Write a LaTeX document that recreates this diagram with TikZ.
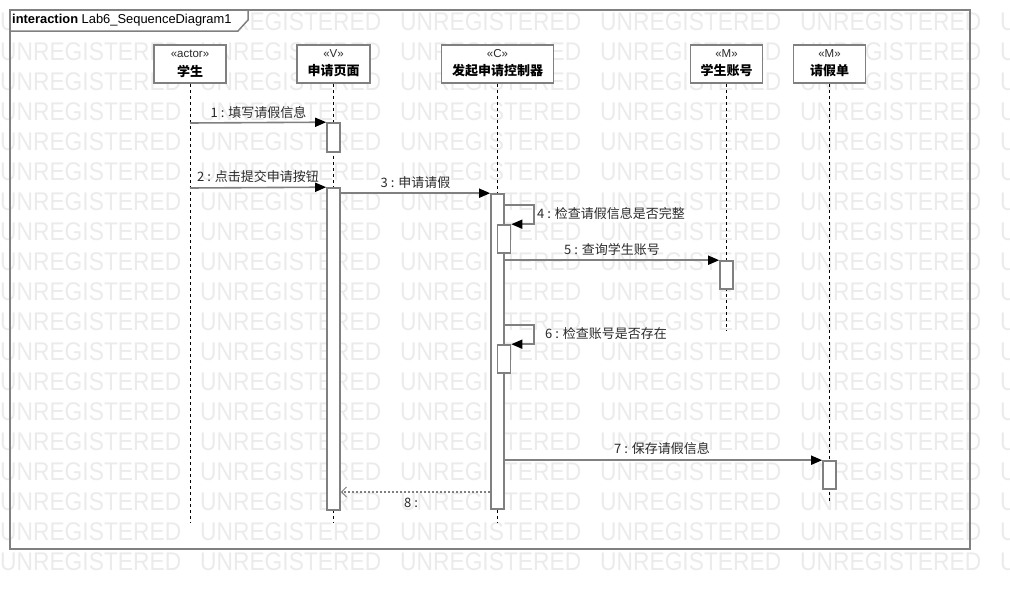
\documentclass[tikz,border=0pt]{standalone}
\usepackage{fontspec}
\setmainfont{Liberation Sans}
\newfontfamily\cjk{Noto Sans CJK SC}
\usetikzlibrary{arrows.meta}
\definecolor{lg}{HTML}{808080}
\definecolor{wm}{HTML}{EBEBEB}
\definecolor{txt}{HTML}{2A2A2A}
\begin{document}
\begin{tikzpicture}[x=1pt,y=-1pt,
  wmark/.style={text=wm, font=\fontsize{25.6}{26}\selectfont, anchor=west, inner sep=0},
  lbox/.style={draw=lg, line width=1.6, fill=white, minimum width=72, minimum height=38, inner sep=0},
  stereo/.style={font=\fontsize{11.5}{12}\selectfont, text=txt, inner sep=0},
  lname/.style={font=\cjk\bfseries\fontsize{13}{15}\selectfont, text=black, inner sep=0},
  life/.style={draw=black, line width=0.9, dash pattern=on 3pt off 3pt},
  act/.style={draw=lg, line width=1.6, fill=white, minimum width=13, inner sep=0},
  msg/.style={draw=lg, line width=1.6, -{Triangle[length=11pt,width=9pt,black]}},
  ret/.style={draw=lg, line width=1.6, dash pattern=on 2pt off 2pt, -{Straight Barb[length=5pt,width=10pt,line width=1pt,lg]}},
  lab/.style={font=\cjk\fontsize{13}{15}\selectfont, text=txt, inner sep=0}
]
\useasboundingbox (0,0) rectangle (1010,589);
% watermark
\begin{scope}
\clip (0,0) rectangle (1010,589);
\foreach \r in {0,...,18}{
  \foreach \c in {0,...,5}{
    \node[wmark] (w-\r-\c) at (200*\c, 22+30*\r) {\scalebox{0.89}[1]{UNREGISTERED}};
  }
}
\end{scope}
% frame
\node[draw=lg, line width=2, minimum width=960, minimum height=539, inner sep=0] (frame) at (490,279.5) {};
\draw[draw=lg, line width=1.5, fill=white] (10,10) -- (248,10) -- (248,20) -- (238,31) -- (10,31) -- cycle;
\node[anchor=west, inner sep=0, font=\fontsize{12.9}{14}\selectfont] (title) at (12,20.5) {\textbf{interaction} Lab6\_SequenceDiagram1};
% lifeline ends
\coordinate (e1) at (190,523);
\coordinate (e2) at (333.5,523);
\coordinate (e3) at (497.5,523);
\coordinate (e4) at (726.5,331);
\coordinate (e5) at (829.5,502);
% boxes
\node[lbox] (b1) at (190,64) {};
\node[lbox, minimum width=73] (b2) at (333.5,64) {};
\node[lbox, minimum width=112] (b3) at (497.5,64) {};
\node[lbox] (b4) at (726.5,64) {};
\node[lbox] (b5) at (829.5,64) {};
\node[stereo] (b1s) at (190,54) {«actor»};
\node[lname] (b1n) at (190,71) {学生};
\node[stereo] (b2s) at (333.5,54) {«V»};
\node[lname] (b2n) at (333.5,71) {申请页面};
\node[stereo] (b3s) at (497.5,54) {«C»};
\node[lname] (b3n) at (497.5,71) {发起申请控制器};
\node[stereo] (b4s) at (726.5,54) {«M»};
\node[lname] (b4n) at (726.5,71) {学生账号};
\node[stereo] (b5s) at (829.5,54) {«M»};
\node[lname] (b5n) at (829.5,71) {请假单};
% lifelines
\draw[life] (b1.south) -- (e1);
\draw[life] (b2.south) -- (e2);
\draw[life] (b3.south) -- (e3);
\draw[life] (b4.south) -- (e4);
\draw[life] (b5.south) -- (e5);
% activations
\node[act, minimum height=29] (a1) at (333.5,137.5) {};
\node[act, minimum height=322] (a2) at (333.5,349) {};
\node[act, minimum height=315] (a3) at (497.5,351.5) {};
\node[act, minimum height=28] (a4) at (504,239) {};
\node[act, minimum height=28] (a5) at (726.5,275) {};
\node[act, minimum height=28] (a6) at (504,359) {};
\node[act, minimum height=28] (a7) at (829.5,475) {};
% messages
\coordinate (m1s) at (190,123);
\coordinate (m2s) at (190,188);
\coordinate (m4s) at (a3.east |- 0,205);
\coordinate (m6s) at (a3.east |- 0,325);
\coordinate (m8) at (0,492);
\draw[msg] (m1s) -- (a1.north west);
\draw[msg] (m2s) -- (a2.north west);
\draw[msg] (a2.east |- a3.north) -- (a3.north west);
\draw[msg] (m4s) -- (534,205) |- (a4.north east);
\draw[msg] (a3.east |- a5.north) -- (a5.north west);
\draw[msg] (m6s) -- (534,325) |- (a6.north east);
\draw[msg] (a3.east |- a7.north) -- (a7.north west);
\draw[ret] (a3.west |- m8) -- (a2.east |- m8);
% labels
\node[lab] (l1) at (258.5,113) {1 : 填写请假信息};
\node[lab] (l2) at (258,177) {2 : 点击提交申请按钮};
\node[lab] (l3) at (415.5,183) {3 : 申请请假};
\node[lab, anchor=west] (l4) at (537,214) {4 : 检查请假信息是否完整};
\node[lab] (l5) at (612,250) {5 : 查询学生账号};
\node[lab, anchor=west] (l6) at (545,334) {6 : 检查账号是否存在};
\node[lab] (l7) at (662,449) {7 : 保存请假信息};
\node[lab] (l8) at (411,503) {8 :};
\end{tikzpicture}
\end{document}
